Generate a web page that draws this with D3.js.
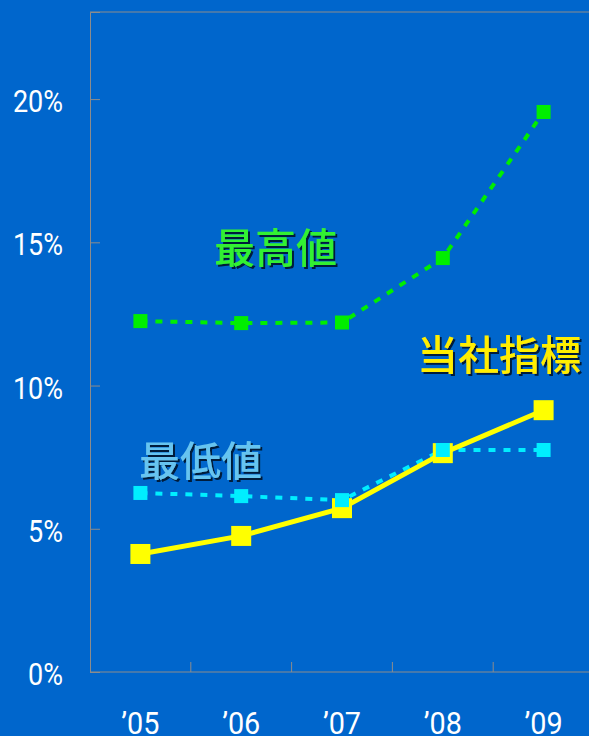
<!DOCTYPE html>
<html>
<head>
<meta charset="utf-8">
<script src="https://cdn.jsdelivr.net/npm/d3@7"></script>
<style>
  html, body { margin: 0; padding: 0; background: #0066cc; }
  svg { display: block; }
</style>
</head>
<body>
<svg id="chart" width="589" height="736"></svg>
<script>
// Years and yearly rates (%)
const years = ["’05", "’06", "’07", "’08", "’09"];
const highValues = [12.25, 12.18, 12.2, 14.45, 19.55];   // 最高値
const lowValues = [6.25, 6.14, 6.0, 7.75, 7.75];         // 最低値
const ownValues = [4.12, 4.75, 5.72, 7.64, 9.14];        // 当社指標
const yTicks = [0, 5, 10, 15, 20];

const svg = d3.select("#chart");
const W = 589, H = 736;
const margin = { left: 90, top: 12, bottom: 64 };
const plotRight = 594;

// soft dark shadow for the series labels
const defs = svg.append("defs");
const f = defs.append("filter").attr("id", "shadow")
  .attr("x", "-10%").attr("y", "-20%").attr("width", "130%").attr("height", "150%");
f.append("feDropShadow").attr("dx", 2).attr("dy", 2).attr("stdDeviation", 0.6)
  .attr("flood-color", "#061a3a").attr("flood-opacity", 1);

svg.append("rect").attr("width", W).attr("height", H).attr("fill", "#0066cc");

const x = d3.scaleBand().domain(years).range([margin.left, plotRight]);
const y = d3.scaleLinear().domain([0, 23.04]).range([H - margin.bottom, margin.top]);
const cx = d => x(d) + x.bandwidth() / 2;

const axisColor = "#8c8c8c";

// frame: top border and left/bottom axes
svg.append("line").attr("x1", margin.left).attr("x2", W)
  .attr("y1", margin.top).attr("y2", margin.top)
  .attr("stroke", axisColor).attr("stroke-width", 1);

const yAxis = svg.append("g")
  .attr("transform", `translate(${margin.left},0)`)
  .call(d3.axisRight(y).tickValues(yTicks).tickSize(10).tickFormat(""));
yAxis.select(".domain").attr("stroke", axisColor);
yAxis.selectAll(".tick line").attr("stroke", axisColor);

// y tick labels
svg.append("g").selectAll("text").data(yTicks).join("text")
  .attr("x", 63).attr("y", d => y(d) + 13)
  .attr("text-anchor", "end")
  .attr("fill", "#ffffff")
  .attr("font-family", "Roboto, 'Liberation Sans', sans-serif")
  .attr("font-size", 31)
  .attr("transform", "translate(63,0) scale(0.87,1) translate(-63,0)")
  .text(d => d + "%");

// x axis with ticks at band boundaries pointing up
const xAxis = svg.append("g")
  .attr("transform", `translate(0,${H - margin.bottom})`);
xAxis.append("line").attr("x1", margin.left).attr("x2", W)
  .attr("stroke", axisColor);
xAxis.selectAll("line.tk").data(years.slice(1)).join("line")
  .attr("class", "tk")
  .attr("x1", d => x(d)).attr("x2", d => x(d))
  .attr("y1", 0).attr("y2", -10)
  .attr("stroke", axisColor);

svg.append("g").selectAll("text").data(years).join("text")
  .attr("x", d => cx(d)).attr("y", 734)
  .attr("text-anchor", "middle")
  .attr("fill", "#ffffff")
  .attr("font-family", "Roboto, 'Liberation Sans', sans-serif")
  .attr("font-size", 32)
  .attr("transform", d => `translate(${cx(d)},0) scale(0.9,1) translate(${-cx(d)},0)`)
  .text(d => d);

const line = d3.line().x((d, i) => cx(years[i])).y(d => y(d));

// 最高値 series
svg.append("path").datum(highValues)
  .attr("d", line).attr("fill", "none")
  .attr("stroke", "#00ee00").attr("stroke-width", 4)
  .attr("stroke-dasharray", "7,8");
// 最低値 series
svg.append("path").datum(lowValues)
  .attr("d", line).attr("fill", "none")
  .attr("stroke", "#00eeff").attr("stroke-width", 4)
  .attr("stroke-dasharray", "7,8");
// 当社指標 series
svg.append("path").datum(ownValues)
  .attr("d", line).attr("fill", "none")
  .attr("stroke", "#ffff00").attr("stroke-width", 5);

function markers(vals, size, color) {
  svg.append("g").selectAll("rect").data(vals).join("rect")
    .attr("x", (d, i) => cx(years[i]) - size / 2)
    .attr("y", d => y(d) - size / 2)
    .attr("width", size).attr("height", size)
    .attr("fill", color);
}
markers(ownValues, 20, "#ffff00");
markers(highValues, 14, "#00ee00");
markers(lowValues, 14, "#00eeff");

// series labels
function label(text, lx, cy, color) {
  svg.append("text")
    .attr("x", lx).attr("y", cy)
    .attr("dominant-baseline", "central")
    .attr("font-family", "'Noto Sans CJK JP', sans-serif")
    .attr("font-size", 41)
    .attr("font-weight", 500)
    .attr("fill", color)
    .attr("filter", "url(#shadow)")
    .text(text);
}
label("最高値", 214, 245, "#33f033");
label("当社指標", 417, 352, "#ffee00");
label("最低値", 139, 458, "#66c4f0");
</script>
</body>
</html>
